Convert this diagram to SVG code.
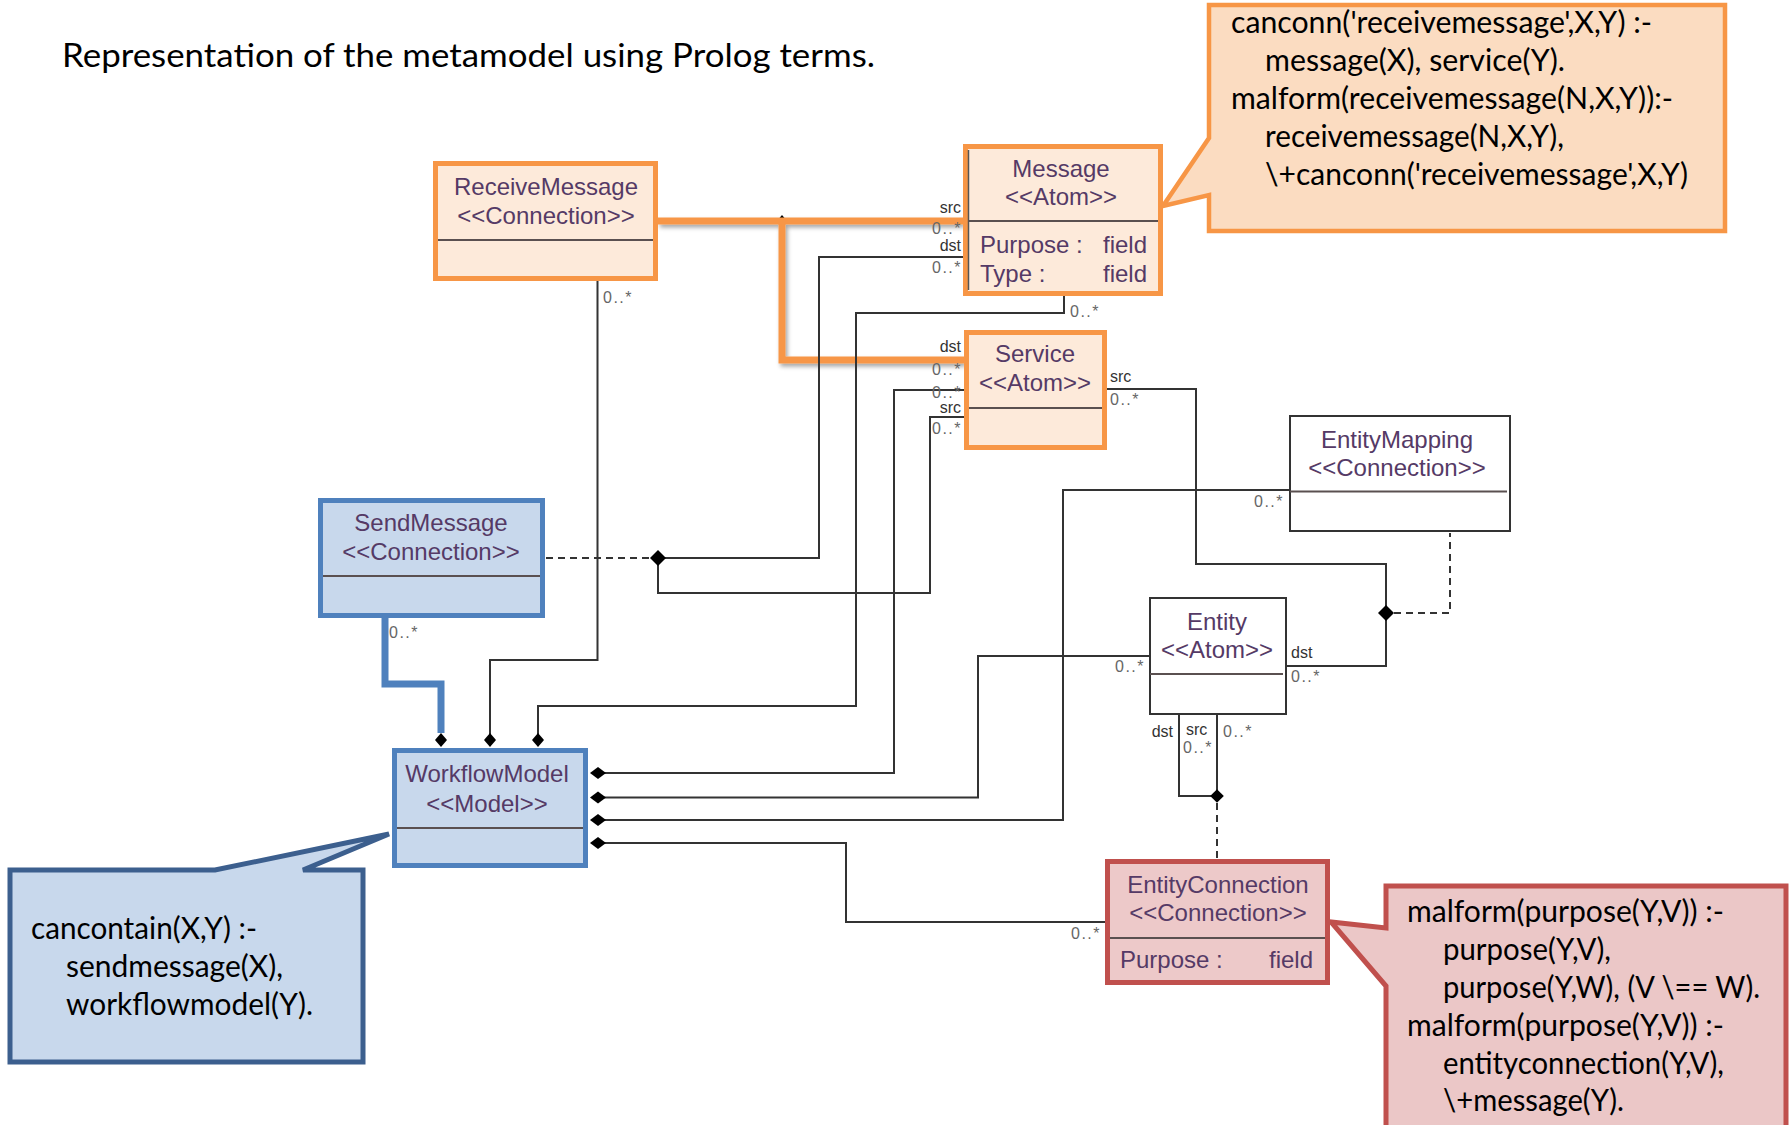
<svg xmlns="http://www.w3.org/2000/svg" xmlns:xlink="http://www.w3.org/1999/xlink" width="1791" height="1125" viewBox="0 0 1791 1125">
  <defs>
    <style>
      .title { font-family: Lato, "Open Sans", sans-serif; font-size: 33px; fill: #000; }
      .note { font-family: Lato, "Open Sans", sans-serif; font-size: 30px; fill: #000; }
      .nm { font-family: "Liberation Sans", Arial, sans-serif; font-size: 24px; fill: #553a66; text-anchor: middle; }
      .fld { font-family: "Liberation Sans", Arial, sans-serif; font-size: 24px; fill: #553a66; }
      .role { font-family: "Liberation Sans", Arial, sans-serif; font-size: 16px; fill: #333; }
      .card { font-family: "Liberation Sans", Arial, sans-serif; font-size: 16px; fill: #666; letter-spacing: 1.5px; }
      .end { text-anchor: end; }
      .wire { fill: none; stroke: #333; stroke-width: 2; }
      .dash { fill: none; stroke: #333; stroke-width: 2; stroke-dasharray: 7 5; }
      .sep { stroke: #5a5050; stroke-width: 2; }
      .orangeNode { fill: #fdeada; stroke: #f79646; stroke-width: 5; }
      .blueNode { fill: #c8d8ec; stroke: #4f81bd; stroke-width: 5; }
      .plainNode { fill: #fff; stroke: #333; stroke-width: 2; }
      .redNode { fill: #edc9c9; stroke: #c0504d; stroke-width: 5; }
    </style>
    <filter id="lineShadow" x="-5%" y="-5%" width="110%" height="120%">
      <feDropShadow dx="2" dy="3" stdDeviation="2" flood-color="#000" flood-opacity="0.35"/>
    </filter>
    <path id="dmdV" d="M0,-7 L6,0 L0,7 L-6,0 Z" fill="#000"/>
    <path id="dmdH" d="M-8,0 L0,-6 L8,0 L0,6 Z" fill="#000"/>
    <path id="dmdJ" d="M-8,0 L0,-8 L8,0 L0,8 Z" fill="#000"/>
  </defs>

  <rect width="1791" height="1125" fill="#fff"/>

  <text class="title" x="62" y="67" textLength="813" lengthAdjust="spacingAndGlyphs">Representation of the metamodel using Prolog terms.</text>

  <!-- connectors -->
  <g id="connectors">
    <!-- junction mark under the ReceiveMessage link -->
    <use xlink:href="#dmdV" x="782" y="220" transform="translate(782 220) scale(0.7) translate(-782 -220)"/>
    <!-- ReceiveMessage: src Message, dst Service -->
    <path d="M658,221 H963 M782,218 V360 H964" fill="none" stroke="#f79646" stroke-width="7" filter="url(#lineShadow)"/>

    <!-- SendMessage: dst Message, src Service -->
    <path class="dash" d="M546,558 H650"/>
    <path class="wire" d="M963,257 H819 V558 H658 V593 H930 V417 H964"/>
    <use xlink:href="#dmdJ" x="658" y="558"/>

    <!-- containment in WorkflowModel -->
    <path class="wire" d="M598,773 H894 V390 H964"/>
    <path class="wire" d="M598,797.5 H978 V656 H1149"/>
    <path class="wire" d="M598,820 H1063 V490 H1289"/>
    <path class="wire" d="M598,843 H846 V922 H1106"/>
    <path class="wire" d="M490,740 V660 H597.5 V281"/>
    <path class="wire" d="M538,740 V706 H856 V313 H1064 V296"/>
    <path d="M385,618 V684 H441 V733" fill="none" stroke="#4f81bd" stroke-width="7"/>
    <use xlink:href="#dmdH" x="598" y="773"/>
    <use xlink:href="#dmdH" x="598" y="797.5"/>
    <use xlink:href="#dmdH" x="598" y="820"/>
    <use xlink:href="#dmdH" x="598" y="843"/>
    <use xlink:href="#dmdV" x="441" y="740"/>
    <use xlink:href="#dmdV" x="490" y="740"/>
    <use xlink:href="#dmdV" x="538" y="740"/>

    <!-- EntityMapping: src Service, dst Entity -->
    <path class="wire" d="M1107,389 H1196 V564 H1386 V666 H1287"/>
    <path class="dash" d="M1394,613 H1450 V533"/>
    <use xlink:href="#dmdJ" x="1386" y="613"/>

    <!-- EntityConnection: Entity to Entity -->
    <path class="wire" d="M1179,714 V796 H1217 M1217,714 V796"/>
    <path class="dash" d="M1217,803 V859"/>
    <use xlink:href="#dmdJ" x="1217" y="796" transform="translate(1217 796) scale(0.85) translate(-1217 -796)"/>

    <!-- role names and multiplicities -->
    <text class="role end" x="961" y="213">src</text>
    <text class="card end" x="962" y="234">0..*</text>
    <text class="role end" x="961" y="251">dst</text>
    <text class="card end" x="962" y="273">0..*</text>

    <text class="role end" x="961" y="352">dst</text>
    <text class="card end" x="962" y="375">0..*</text>
    <text class="card end" x="962" y="398">0..*</text>
    <text class="role end" x="961" y="413">src</text>
    <text class="card end" x="962" y="434">0..*</text>

    <text class="role" x="1110" y="382">src</text>
    <text class="card" x="1110" y="405">0..*</text>

    <text class="card" x="1070" y="317">0..*</text>
    <text class="card" x="603" y="303">0..*</text>
    <text class="card" x="389" y="638">0..*</text>

    <text class="card end" x="1145" y="672">0..*</text>
    <text class="role" x="1291" y="658">dst</text>
    <text class="card" x="1291" y="682">0..*</text>

    <text class="role end" x="1173" y="737">dst</text>
    <text class="role" x="1186" y="735">src</text>
    <text class="card" x="1183" y="753">0..*</text>
    <text class="card" x="1223" y="737">0..*</text>

    <text class="card end" x="1284" y="507">0..*</text>
    <text class="card end" x="1101" y="939">0..*</text>
  </g>

  <!-- nodes -->
  <g id="node-receivemessage">
    <rect class="orangeNode" x="435.5" y="163.5" width="220" height="115"/>
    <line class="sep" x1="438" y1="240" x2="653" y2="240"/>
    <text class="nm" x="546" y="195">ReceiveMessage</text>
    <text class="nm" x="546" y="224">&lt;&lt;Connection&gt;&gt;</text>
  </g>

  <g id="node-message">
    <rect class="orangeNode" x="965.5" y="146.5" width="195" height="147"/>
    <line x1="968.5" y1="150" x2="968.5" y2="290" stroke="#555" stroke-width="1.5"/>
    <line class="sep" x1="968" y1="221" x2="1158" y2="221"/>
    <text class="nm" x="1061" y="177">Message</text>
    <text class="nm" x="1061" y="205">&lt;&lt;Atom&gt;&gt;</text>
    <text class="fld" x="980" y="253">Purpose :</text>
    <text class="fld end" x="1147" y="253">field</text>
    <text class="fld" x="980" y="282">Type :</text>
    <text class="fld end" x="1147" y="282">field</text>
  </g>

  <g id="node-service">
    <rect class="orangeNode" x="966.5" y="332.5" width="138" height="115"/>
    <line class="sep" x1="969" y1="408" x2="1102" y2="408"/>
    <text class="nm" x="1035" y="362">Service</text>
    <text class="nm" x="1035" y="391">&lt;&lt;Atom&gt;&gt;</text>
  </g>

  <g id="node-sendmessage">
    <rect class="blueNode" x="320.5" y="500.5" width="222" height="115"/>
    <line class="sep" x1="323" y1="576" x2="540" y2="576"/>
    <text class="nm" x="431" y="531">SendMessage</text>
    <text class="nm" x="431" y="560">&lt;&lt;Connection&gt;&gt;</text>
  </g>

  <g id="node-workflowmodel">
    <rect class="blueNode" x="394.5" y="750.5" width="191" height="115"/>
    <line class="sep" x1="397" y1="828" x2="583" y2="828"/>
    <text class="nm" x="487" y="782">WorkflowModel</text>
    <text class="nm" x="487" y="812">&lt;&lt;Model&gt;&gt;</text>
  </g>

  <g id="node-entitymapping">
    <rect class="plainNode" x="1290" y="416" width="220" height="115"/>
    <line class="sep" x1="1290" y1="491.5" x2="1507" y2="491.5"/>
    <text class="nm" x="1397" y="448">EntityMapping</text>
    <text class="nm" x="1397" y="476">&lt;&lt;Connection&gt;&gt;</text>
  </g>

  <g id="node-entity">
    <rect class="plainNode" x="1150" y="598" width="136" height="116"/>
    <line class="sep" x1="1150" y1="674" x2="1283" y2="674"/>
    <text class="nm" x="1217" y="630">Entity</text>
    <text class="nm" x="1217" y="658">&lt;&lt;Atom&gt;&gt;</text>
  </g>

  <g id="node-entityconnection">
    <rect class="redNode" x="1107.5" y="861.5" width="220" height="121"/>
    <line class="sep" x1="1110" y1="938" x2="1325" y2="938"/>
    <text class="nm" x="1218" y="893">EntityConnection</text>
    <text class="nm" x="1218" y="921">&lt;&lt;Connection&gt;&gt;</text>
    <text class="fld" x="1120" y="968">Purpose :</text>
    <text class="fld end" x="1313" y="968">field</text>
  </g>

  <!-- rule callouts -->
  <g id="note-receivemessage">
    <path d="M1209,5 H1725 V231 H1209 V195 L1163,206 L1209,138 Z" fill="#fbdcc1" stroke="#f79646" stroke-width="4.5" stroke-linejoin="miter"/>
    <text class="note" x="1231" y="33" textLength="421" lengthAdjust="spacingAndGlyphs">canconn('receivemessage',X,Y) :-</text>
    <text class="note" x="1265" y="71" textLength="300" lengthAdjust="spacingAndGlyphs">message(X), service(Y).</text>
    <text class="note" x="1231" y="109" textLength="442" lengthAdjust="spacingAndGlyphs">malform(receivemessage(N,X,Y)):-</text>
    <text class="note" x="1265" y="147" textLength="299" lengthAdjust="spacingAndGlyphs">receivemessage(N,X,Y),</text>
    <text class="note" x="1265" y="185" textLength="423" lengthAdjust="spacingAndGlyphs">\+canconn('receivemessage',X,Y)</text>
  </g>

  <g id="note-workflowmodel">
    <path d="M10,870 H215 L389,834 L303,870 H363 V1062 H10 Z" fill="#c8d8ec" stroke="#3c5f8e" stroke-width="5" stroke-linejoin="miter"/>
    <text class="note" x="31" y="939" textLength="226" lengthAdjust="spacingAndGlyphs">cancontain(X,Y) :-</text>
    <text class="note" x="66" y="977" textLength="217" lengthAdjust="spacingAndGlyphs">sendmessage(X),</text>
    <text class="note" x="66" y="1015" textLength="247" lengthAdjust="spacingAndGlyphs">workflowmodel(Y).</text>
  </g>

  <g id="note-entityconnection">
    <path d="M1386,886 H1786 V1135 H1386 V986 L1331,922 L1386,928 Z" fill="#ebc7c7" stroke="#c0504d" stroke-width="5" stroke-linejoin="miter"/>
    <text class="note" x="1407" y="922" textLength="317" lengthAdjust="spacingAndGlyphs">malform(purpose(Y,V)) :-</text>
    <text class="note" x="1443" y="960" textLength="168" lengthAdjust="spacingAndGlyphs">purpose(Y,V),</text>
    <text class="note" x="1443" y="998" textLength="317" lengthAdjust="spacingAndGlyphs">purpose(Y,W), (V \== W).</text>
    <text class="note" x="1407" y="1036" textLength="317" lengthAdjust="spacingAndGlyphs">malform(purpose(Y,V)) :-</text>
    <text class="note" x="1443" y="1074" textLength="281" lengthAdjust="spacingAndGlyphs">entityconnection(Y,V),</text>
    <text class="note" x="1443" y="1111" textLength="181" lengthAdjust="spacingAndGlyphs">\+message(Y).</text>
  </g>
</svg>
